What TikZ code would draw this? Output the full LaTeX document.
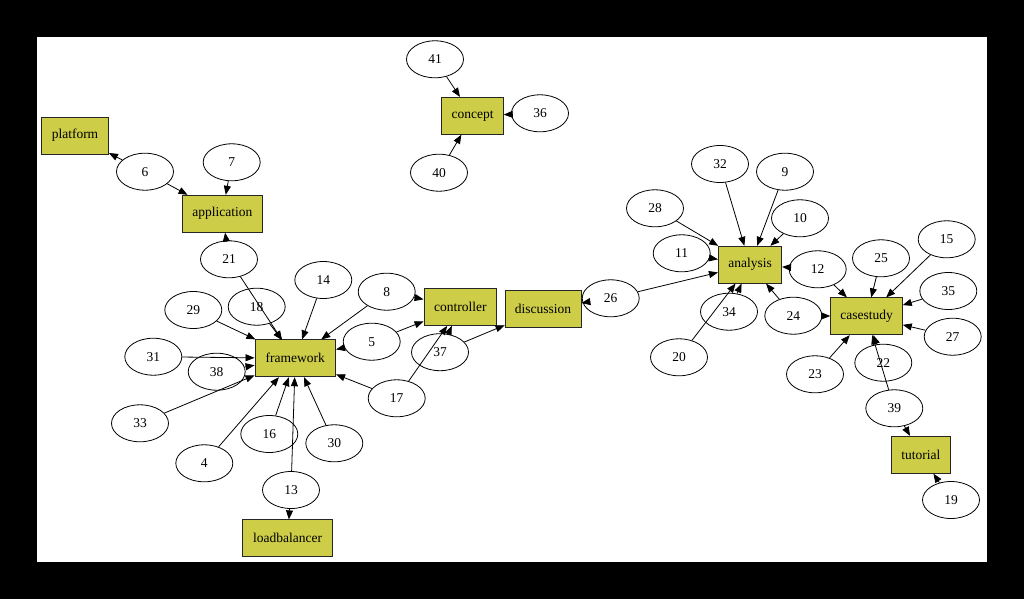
\documentclass[tikz,border=0pt]{standalone}
\usepackage{fontspec}
\setmainfont{Liberation Serif}
\usetikzlibrary{arrows.meta,shapes.geometric}
\definecolor{boxfill}{RGB}{205,205,72}
\tikzset{
  every node/.style={font=\fontsize{13.5}{15}\selectfont},
  topic/.style={draw=black!85, line width=0.8pt, fill=boxfill, rectangle, minimum height=37pt, inner sep=2pt},
  num/.style={draw=black, line width=0.8pt, ellipse, minimum width=57pt, minimum height=37pt, inner sep=0pt},
  arr/.style={-{Triangle[length=9pt,width=7pt]}, line width=0.8pt},
}
\begin{document}
\begin{tikzpicture}[x=1pt,y=-1pt]
\fill[black] (0,0) rectangle (1024,599);
\fill[white] (37,37) rectangle (987,562);
\useasboundingbox (0,0) rectangle (1024,599);
% boxes
\node[topic, minimum width=67pt] (platform) at (75,135.5) {platform};
\node[topic, minimum width=80pt] (application) at (222.3,213.7) {application};
\node[topic, minimum width=80.7pt] (framework) at (295.3,358.3) {framework};
\node[topic, minimum width=89.7pt] (loadbalancer) at (287.5,538.3) {loadbalancer};
\node[topic, minimum width=72.7pt] (controller) at (460.3,307) {controller};
\node[topic, minimum width=76pt] (discussion) at (543,309.2) {discussion};
\node[topic, minimum width=61.7pt] (concept) at (472.5,115.8) {concept};
\node[topic, minimum width=63.3pt] (analysis) at (750,264.7) {analysis};
\node[topic, minimum width=71.7pt] (casestudy) at (866.5,316.3) {casestudy};
\node[topic, minimum width=58.3pt] (tutorial) at (920.8,454.7) {tutorial};
\coordinate (fwtop) at (282,340);
% ellipses
\node[num] (n6) at (145,171.7) {6};
\node[num] (n7) at (231.7,162.3) {7};
\node[num] (n21) at (229,259.3) {21};
\node[num] (n14) at (323.3,280) {14};
\node[num] (n18) at (256.7,306.7) {18};
\node[num] (n29) at (193.3,310) {29};
\node[num] (n8) at (386.7,291.7) {8};
\node[num] (n5) at (371.7,341.7) {5};
\node[num] (n31) at (153.3,356.7) {31};
\node[num] (n38) at (216.7,371.7) {38};
\node[num] (n33) at (140,423.3) {33};
\node[num] (n16) at (269.3,434) {16};
\node[num] (n30) at (334.3,443.3) {30};
\node[num] (n4) at (204.3,463.3) {4};
\node[num] (n17) at (396.7,398.3) {17};
\node[num] (n37) at (440,352.2) {37};
\node[num] (n13) at (291,490) {13};
\node[num] (n41) at (435,59.3) {41};
\node[num] (n36) at (540,113.3) {36};
\node[num] (n40) at (439,172.7) {40};
\node[num] (n26) at (610.7,298.3) {26};
\node[num] (n32) at (720,164) {32};
\node[num] (n9) at (785,171.7) {9};
\node[num] (n28) at (655,208.3) {28};
\node[num] (n10) at (800,218.3) {10};
\node[num] (n11) at (681.7,253.3) {11};
\node[num] (n12) at (817.7,269.3) {12};
\node[num] (n25) at (881,258.3) {25};
\node[num] (n15) at (946.7,239.3) {15};
\node[num] (n35) at (948.3,291) {35};
\node[num] (n34) at (729,311.7) {34};
\node[num] (n24) at (793.3,315.7) {24};
\node[num] (n27) at (952.7,336.7) {27};
\node[num] (n20) at (679,357.3) {20};
\node[num] (n23) at (815,374.3) {23};
\node[num] (n22) at (883.3,362.7) {22};
\node[num] (n39) at (894.3,408.3) {39};
\node[num] (n19) at (951,500) {19};
% edges
\draw[arr] (n6) -- (platform);
\draw[arr] (n6) -- (application);
\draw[arr] (n7) -- (application);
\draw[arr] (n21) -- (application);
\draw[arr] (n21) -- (fwtop);
\draw[arr] (n18) -- (fwtop);
\draw[arr] (n14) -- (framework);
\draw[arr] (n29) -- (framework);
\draw[arr] (n8) -- (framework);
\draw[arr] (n8) -- (controller);
\draw[arr] (n5) -- (framework);
\draw[arr] (n5) -- (controller);
\draw[arr] (n31) -- (framework);
\draw[arr] (n38) -- (framework);
\draw[arr] (n33) -- (framework);
\draw[arr] (n4) -- (framework);
\draw[arr] (n16) -- (framework);
\draw[arr] (n30) -- (framework);
\draw[arr] (n13) -- (framework);
\draw[arr] (n13) -- (loadbalancer);
\draw[arr] (n17) -- (framework);
\draw[arr] (n17) -- (controller);
\draw[arr] (n37) -- (controller);
\draw[arr] (n37) -- (discussion);
\draw[arr] (n26) -- (discussion);
\draw[arr] (n26) -- (analysis);
\draw[arr] (n41) -- (concept);
\draw[arr] (n36) -- (concept);
\draw[arr] (n40) -- (concept);
\draw[arr] (n32) -- (analysis);
\draw[arr] (n9) -- (analysis);
\draw[arr] (n10) -- (analysis);
\draw[arr] (n28) -- (analysis);
\draw[arr] (n11) -- (analysis);
\draw[arr] (n34) -- (analysis);
\draw[arr] (n20) -- (analysis);
\draw[arr] (n12) -- (analysis);
\draw[arr] (n12) -- (casestudy);
\draw[arr] (n24) -- (analysis);
\draw[arr] (n24) -- (casestudy);
\draw[arr] (n25) -- (casestudy);
\draw[arr] (n15) -- (casestudy);
\draw[arr] (n35) -- (casestudy);
\draw[arr] (n27) -- (casestudy);
\draw[arr] (n23) -- (casestudy);
\draw[arr] (n22) -- (casestudy);
\draw[arr] (n39) -- (casestudy);
\draw[arr] (n39) -- (tutorial);
\draw[arr] (n19) -- (tutorial);
\end{tikzpicture}
\end{document}
